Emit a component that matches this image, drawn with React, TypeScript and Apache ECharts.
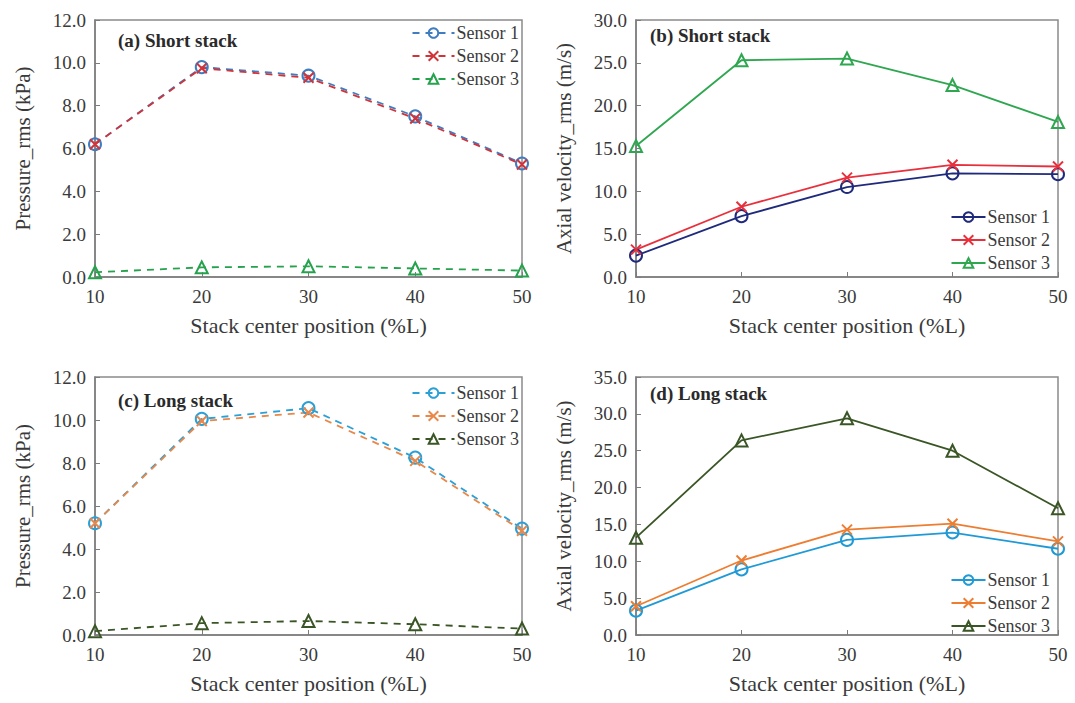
import React, { useEffect, useRef } from "react";
import * as echarts from "echarts";

const positions = [10, 20, 30, 40, 50];
const sensorNames = ["Sensor 1", "Sensor 2", "Sensor 3"];

// (a) Short stack, pressure rms (kPa)
const aS1 = [6.2, 9.8, 9.4, 7.5, 5.3];
const aS2 = [6.2, 9.75, 9.3, 7.4, 5.25];
const aS3 = [0.22, 0.45, 0.5, 0.4, 0.3];
// (b) Short stack, axial velocity rms (m/s)
const bS1 = [2.5, 7.1, 10.5, 12.1, 12.0];
const bS2 = [3.2, 8.2, 11.6, 13.1, 12.9];
const bS3 = [15.3, 25.3, 25.5, 22.4, 18.1];
// (c) Long stack, pressure rms (kPa)
const cS1 = [5.2, 10.05, 10.55, 8.25, 4.95];
const cS2 = [5.2, 9.95, 10.35, 8.1, 4.85];
const cS3 = [0.18, 0.55, 0.65, 0.5, 0.3];
// (d) Long stack, axial velocity rms (m/s)
const dS1 = [3.3, 8.9, 12.9, 13.9, 11.7];
const dS2 = [3.9, 10.1, 14.3, 15.1, 12.7];
const dS3 = [13.2, 26.4, 29.4, 25.0, 17.2];

const panelTitles = ["(a) Short stack", "(b) Short stack", "(c) Long stack", "(d) Long stack"];
const yNames = ["Pressure_rms (kPa)", "Axial velocity_rms (m/s)", "Pressure_rms (kPa)", "Axial velocity_rms (m/s)"];
const xName = "Stack center position (%L)";
const yMax = [12, 30, 12, 35];
const yStep = [2, 5, 2, 5];

const FONT = "'Liberation Serif', 'Times New Roman', serif";
const TXT = "#3a3a3a";
const AX = "#7c7c7c";

const CROSS = "path://M0,0L10,10M10,0L0,10";

export default function App() {
  const ref = useRef<HTMLDivElement>(null);

  useEffect(() => {
    if (!ref.current) return;
    const chart = echarts.init(ref.current, undefined, { renderer: "svg" });

    const grids = [
      { left: 95, top: 20, width: 427, height: 257 },
      { left: 636, top: 20, width: 422, height: 257 },
      { left: 95, top: 377, width: 427, height: 258 },
      { left: 636, top: 377, width: 422, height: 258 },
    ];

    const pairs = (vals: number[]) => positions.map((x, i) => [x, vals[i]]);

    const mk = (
      key: string,
      gi: number,
      vals: number[],
      color: string,
      symbol: string,
      dashed: boolean,
      size: number
    ) => ({
      name: key,
      type: "line",
      xAxisIndex: gi,
      yAxisIndex: gi,
      data: pairs(vals),
      symbol,
      symbolSize: size,
      showAllSymbol: true,
      lineStyle: { color, width: 1.8, type: dashed ? [7, 6] : "solid" },
      itemStyle: { color: "rgba(255,255,255,0)", borderColor: color, borderWidth: 2 },
      emphasis: { disabled: true },
      z: 3,
    });

    const panels = [
      { p: "a", vals: [aS1, aS2, aS3], colors: ["#3f7cc0", "#d0343a", "#25a24c"], dashed: true },
      { p: "b", vals: [bS1, bS2, bS3], colors: ["#1f2a7c", "#e8303c", "#2fa650"], dashed: false },
      { p: "c", vals: [cS1, cS2, cS3], colors: ["#2ba0d6", "#e8884a", "#3b5626"], dashed: true },
      { p: "d", vals: [dS1, dS2, dS3], colors: ["#1f9ad6", "#ed7d31", "#3b5626"], dashed: false },
    ];
    const symbols = ["circle", CROSS, "triangle"];
    const sizes = [12, 10, 12];

    const series: any[] = [];
    panels.forEach((pn, gi) => {
      pn.vals.forEach((v, si) => {
        series.push(mk(`${pn.p}-${sensorNames[si]}`, gi, v, pn.colors[si], symbols[si], pn.dashed, sizes[si]));
      });
    });

    const legendPos = [
      { right: 556, top: 24 },
      { right: 25, top: 208 },
      { right: 556, top: 384 },
      { right: 25, top: 571 },
    ];

    const titlePos = [
      { left: 118, top: 31 },
      { left: 650, top: 26 },
      { left: 118, top: 391 },
      { left: 650, top: 384 },
    ];

    const option: any = {
      animation: false,
      backgroundColor: "#ffffff",
      textStyle: { fontFamily: FONT },
      title: panelTitles.map((t, i) => ({
        text: t,
        left: titlePos[i].left,
        top: titlePos[i].top,
        padding: 0,
        textStyle: { fontFamily: FONT, fontSize: 19, fontWeight: "bold", color: "#2a2a2a" },
      })),
      legend: panels.map((pn, i) => ({
        orient: "vertical",
        right: legendPos[i].right,
        top: legendPos[i].top,
        padding: 0,
        itemGap: 5,
        itemWidth: pn.dashed ? 42 : 34,
        itemHeight: 12,
        align: "left",
        selectedMode: false,
        data: sensorNames.map((s) => `${pn.p}-${s}`),
        formatter: (n: string) => n.split("-")[1],
        textStyle: { fontFamily: FONT, fontSize: 18, color: TXT, padding: [0, 0, 0, -3], lineHeight: 17 },
      })),
      grid: grids.map((g) => ({
        ...g,
        show: true,
        borderColor: "#8a8a8a",
        borderWidth: 1.5,
        backgroundColor: "transparent",
        containLabel: false,
      })),
      xAxis: grids.map((_, i) => ({
        type: "value",
        gridIndex: i,
        min: 10,
        max: 50,
        interval: 10,
        name: xName,
        nameLocation: "middle",
        nameGap: 37,
        nameTextStyle: { fontFamily: FONT, fontSize: 22, color: TXT },
        axisLine: { show: true, lineStyle: { color: AX, width: 1.5 } },
        axisTick: { show: true, inside: true, length: 5, lineStyle: { color: AX } },
        axisLabel: { fontFamily: FONT, fontSize: 19, color: TXT, margin: 10 },
        splitLine: { show: false },
      })),
      yAxis: grids.map((_, i) => ({
        type: "value",
        gridIndex: i,
        min: 0,
        max: yMax[i],
        interval: yStep[i],
        name: yNames[i],
        nameLocation: "middle",
        nameGap: 62,
        nameTextStyle: { fontFamily: FONT, fontSize: 21, color: TXT },
        axisLine: { show: true, lineStyle: { color: AX, width: 1.5 } },
        axisTick: { show: true, inside: true, length: 5, lineStyle: { color: AX } },
        axisLabel: {
          fontFamily: FONT,
          fontSize: 19,
          color: TXT,
          margin: 9,
          formatter: (v: number) => v.toFixed(1),
        },
        splitLine: { show: false },
      })),
      series,
    };

    chart.setOption(option);
    return () => chart.dispose();
  }, []);

  return (
    <div
      ref={ref}
      style={{ position: "absolute", left: 0, top: 0, width: 1075, height: 703, background: "#fff" }}
    />
  );
}
